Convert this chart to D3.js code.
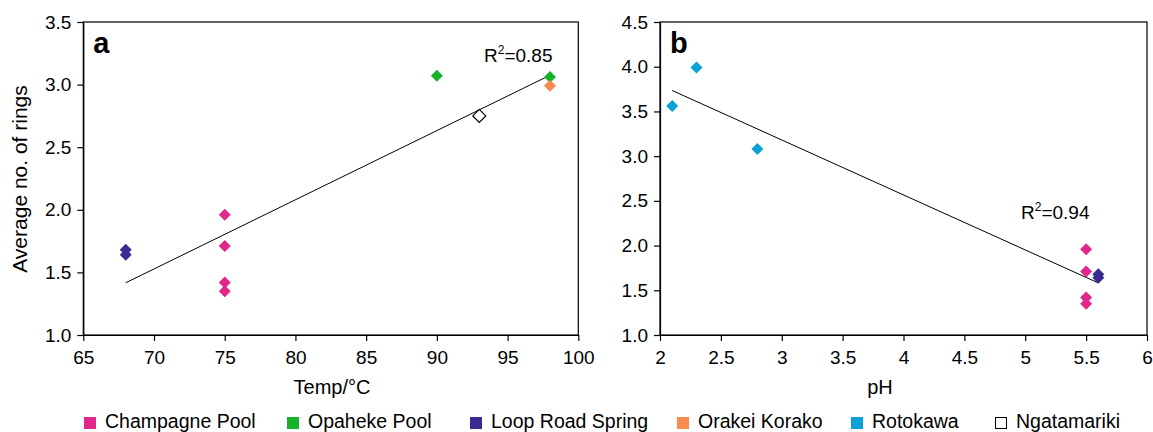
<!DOCTYPE html>
<html>
<head>
<meta charset="utf-8">
<script src="https://cdnjs.cloudflare.com/ajax/libs/d3/7.8.5/d3.min.js"></script>
<style>
body { margin: 0; background: #fff; }
svg text { font-family: 'Liberation Sans', Arial, sans-serif; fill: #000; }
</style>
</head>
<body>
<svg id="chart" width="1153" height="432"></svg>
<script>
// legend / series
var series_names = ['Champagne Pool', 'Opaheke Pool', 'Loop Road Spring', 'Orakei Korako', 'Rotokawa', 'Ngatamariki'];
var series_colors = ['#e2278a', '#17b22a', '#382c92', '#fa8a4e', '#0aa1d5', '#ffffff'];

// panel a: temperature vs average no. of rings
var temp_champagne = [75, 75, 75, 75];
var rings_champagne = [1.96, 1.71, 1.42, 1.35];
var temp_opaheke = [90, 98];
var rings_opaheke = [3.07, 3.06];
var temp_loop = [68, 68];
var rings_loop = [1.68, 1.64];
var temp_orakei = [98];
var rings_orakei = [2.99];
var temp_ngatamariki = [93];
var rings_ngatamariki = [2.75];

// panel b: pH vs average no. of rings
var ph_champagne = [5.5, 5.5, 5.5, 5.5];
var ph_loop = [5.6, 5.6];
var ph_rotokawa = [2.1, 2.3, 2.8];
var rings_rotokawa = [3.56, 3.99, 3.08];

// ticks
var ticks_temp = [65, 70, 75, 80, 85, 90, 95, 100];
var ticks_rings_a = [1.0, 1.5, 2.0, 2.5, 3.0, 3.5];
var ticks_ph = [2, 2.5, 3, 3.5, 4, 4.5, 5, 5.5, 6];
var ticks_rings_b = [1.0, 1.5, 2.0, 2.5, 3.0, 3.5, 4.0, 4.5];

var r2_a = '0.85';
var r2_b = '0.94';

var svg = d3.select('#chart');

var diamond = function(r) {
    return 'M0,' + (-r) + 'L' + r + ',0L0,' + r + 'L' + (-r) + ',0Z';
};

var zip = function(xs, ys) {
    return xs.map(function(x, i) { return [x, ys[i]]; });
};

var regression = function(points) {
    var mx = d3.mean(points, function(d) { return d[0]; });
    var my = d3.mean(points, function(d) { return d[1]; });
    var sxy = d3.sum(points, function(d) { return (d[0] - mx) * (d[1] - my); });
    var sxx = d3.sum(points, function(d) { return (d[0] - mx) * (d[0] - mx); });
    var slope = sxy / sxx;
    return function(x) { return my + slope * (x - mx); };
};

var draw_panel = function(p) {
    var x = d3.scaleLinear().domain(d3.extent(p.xticks)).range([p.left, p.right]);
    var y = d3.scaleLinear().domain(d3.extent(p.yticks)).range([p.bottom, p.top]);

    var g = svg.append('g');

    g.append('rect')
        .attr('x', p.left).attr('y', p.top)
        .attr('width', p.right - p.left).attr('height', p.bottom - p.top)
        .attr('fill', 'none').attr('stroke', '#000').attr('stroke-width', 1.2);

    var xAxis = g.append('g')
        .attr('transform', 'translate(0,' + p.bottom + ')')
        .call(d3.axisBottom(x).tickValues(p.xticks).tickFormat(p.xfmt)
              .tickSizeInner(6).tickSizeOuter(0).tickPadding(10));
    var yAxis = g.append('g')
        .attr('transform', 'translate(' + p.left + ',0)')
        .call(d3.axisLeft(y).tickValues(p.yticks).tickFormat(d3.format('.1f'))
              .tickSizeInner(6).tickSizeOuter(0).tickPadding(6));
    [xAxis, yAxis].forEach(function(a) {
        a.selectAll('.domain').attr('stroke', '#000').attr('stroke-width', 1.2);
        a.selectAll('.tick line').attr('stroke', '#000').attr('stroke-width', 1.2);
        a.selectAll('text').attr('font-size', 19).attr('font-family', null).attr('fill', '#000');
    });

    // trend line
    var all = [];
    p.groups.forEach(function(s) { all = all.concat(zip(s.x, s.y)); });
    var fit = regression(all);
    var ext = d3.extent(all, function(d) { return d[0]; });
    g.append('line')
        .attr('x1', x(ext[0])).attr('y1', y(fit(ext[0])))
        .attr('x2', x(ext[1])).attr('y2', y(fit(ext[1])))
        .attr('stroke', '#000').attr('stroke-width', 1);

    // markers
    p.groups.forEach(function(s) {
        var open = series_colors[s.series] === '#ffffff';
        g.append('g').selectAll('path')
            .data(zip(s.x, s.y))
            .enter()
            .append('path')
            .attr('d', diamond(open ? 6.5 : 6))
            .attr('transform', function(d) { return 'translate(' + x(d[0]) + ',' + y(d[1]) + ')'; })
            .attr('fill', series_colors[s.series])
            .attr('stroke', open ? '#000' : 'none')
            .attr('stroke-width', 1.2);
    });

    // panel letter
    g.append('text')
        .attr('x', p.left + 10).attr('y', p.top + 31)
        .attr('font-size', 29).attr('font-weight', 'bold')
        .text(p.label);

    // R squared
    var r2 = g.append('text')
        .attr('x', p.r2x).attr('y', p.r2y)
        .attr('font-size', 19);
    r2.append('tspan').text('R');
    r2.append('tspan').attr('font-size', 12).attr('dy', -8).text('2');
    r2.append('tspan').attr('dy', 8).text('=' + p.r2);

    // x title
    g.append('text')
        .attr('x', p.xtitlex).attr('y', 394)
        .attr('text-anchor', 'middle').attr('font-size', 20)
        .text(p.xtitle);
};

draw_panel({
    left: 83.3, right: 578.3, top: 22, bottom: 335,
    xticks: ticks_temp, yticks: ticks_rings_a, xfmt: d3.format('d'),
    groups: [
        {series: 0, x: temp_champagne, y: rings_champagne},
        {series: 2, x: temp_loop, y: rings_loop},
        {series: 1, x: temp_opaheke, y: rings_opaheke},
        {series: 3, x: temp_orakei, y: rings_orakei},
        {series: 5, x: temp_ngatamariki, y: rings_ngatamariki}
    ],
    label: 'a', r2: r2_a, r2x: 484, r2y: 62,
    xtitle: 'Temp/°C', xtitlex: 332
});

draw_panel({
    left: 660, right: 1147, top: 22, bottom: 335,
    xticks: ticks_ph, yticks: ticks_rings_b, xfmt: d3.format(''),
    groups: [
        {series: 4, x: ph_rotokawa, y: rings_rotokawa},
        {series: 0, x: ph_champagne, y: rings_champagne},
        {series: 2, x: ph_loop, y: rings_loop}
    ],
    label: 'b', r2: r2_b, r2x: 1021, r2y: 219,
    xtitle: 'pH', xtitlex: 880
});

// y title (panel a only)
svg.append('text')
    .attr('transform', 'translate(27,179) rotate(-90)')
    .attr('text-anchor', 'middle').attr('font-size', 21)
    .text('Average no. of rings');

// legend
var legend_x = [84, 287, 470, 677, 851, 995];
var legend = svg.append('g');
series_names.forEach(function(name, i) {
    var open = series_colors[i] === '#ffffff';
    legend.append('rect')
        .attr('x', legend_x[i] + (open ? 0.5 : 0)).attr('y', 417 + (open ? 0.5 : 0))
        .attr('width', open ? 11 : 12).attr('height', open ? 11 : 12)
        .attr('fill', series_colors[i])
        .attr('stroke', open ? '#000' : 'none');
    legend.append('text')
        .attr('x', legend_x[i] + 21).attr('y', 428)
        .attr('font-size', 19.5)
        .text(name);
});
</script>
</body>
</html>
